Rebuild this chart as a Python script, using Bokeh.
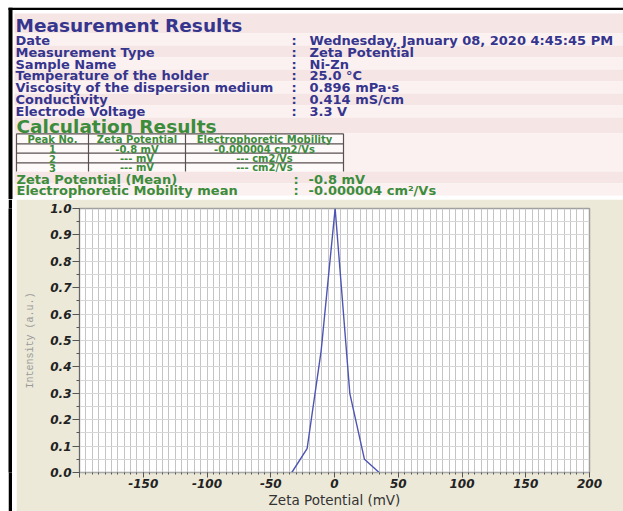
from bokeh.plotting import figure
from bokeh.layouts import column, row
from bokeh.models import Range1d, FixedTicker
from bokeh.core.properties import value
from bokeh.embed import file_html
from bokeh.resources import INLINE

# ---------------- data ----------------
info_labels = ["Date", "Measurement Type", "Sample Name", "Temperature of the holder",
               "Viscosity of the dispersion medium", "Conductivity", "Electrode Voltage"]
info_values = ["Wednesday, January 08, 2020 4:45:45 PM", "Zeta Potential", "Ni-Zn",
               "25.0 °C", "0.896 mPa·s", "0.414 mS/cm", "3.3 V"]
table_cols = ["Peak No.", "Zeta Potential", "Electrophoretic Mobility"]
peak_no = ["1", "2", "3"]
peak_zeta = ["-0.8 mV", "--- mV", "--- mV"]
peak_mobility = ["-0.000004 cm2/Vs", "--- cm2/Vs", "--- cm2/Vs"]
mean_labels = ["Zeta Potential (Mean)", "Electrophoretic Mobility mean"]
mean_values = ["-0.8 mV", "-0.000004 cm²/Vs"]

zeta_mv = [-33.5, -21.5, -10.5, 0.5, 12.0, 23.5, 35.0]
intensity = [0.0, 0.09, 0.46, 1.0, 0.30, 0.05, 0.0]

x_ticks = [-200, -150, -100, -50, 0, 50, 100, 150, 200]
x_tick_labels = ["", "-150", "-100", "-50", "0", "50", "100", "150", "200"]
y_ticks = [0.0, 0.1, 0.2, 0.3, 0.4, 0.5, 0.6, 0.7, 0.8, 0.9, 1.0]
y_tick_labels = ["0.0", "0.1", "0.2", "0.3", "0.4", "0.5", "0.6", "0.7", "0.8", "0.9", "1.0"]

BLUE = "#35358e"
GREEN = "#3c8c3c"
PINK_L = "#fcf1f1"
PINK_D = "#f5e5e5"
BEIGE = "#ece9d8"
FONT = value("DejaVu Sans")


def blank(w, h, xr, yr, color="white"):
    f = figure(width=w, height=h, x_range=xr, y_range=yr, title=None,
               output_backend="svg", toolbar_location=None, min_border=0)
    f.axis.visible = False
    f.grid.visible = False
    f.outline_line_color = None
    f.background_fill_color = color
    f.border_fill_color = color
    return f


# ---------------- header (coordinates = page pixels, y downward) ----------------
W, HH = 623, 199
hdr = blank(W, HH, Range1d(0, W), Range1d(HH, 0))

band_top = [13, 33, 45, 57, 69, 81, 93, 105, 117, 133, 171, 183]
band_bot = [33, 45, 57, 69, 81, 93, 105, 117, 133, 171, 183, 195]
band_col = [PINK_D, PINK_L, PINK_D, PINK_L, PINK_D, PINK_L, PINK_D, PINK_L, PINK_D, PINK_L, PINK_D, PINK_L]
hdr.quad(left=14, right=W, top=band_top, bottom=band_bot, fill_color=band_col, line_color=None)
hdr.quad(left=8, right=12, top=7.3, bottom=HH, fill_color="black", line_color=None)
hdr.quad(left=8, right=W, top=7.3, bottom=9.5, fill_color="black", line_color=None)


def txt(fig, x, y, t, color, size, align="left", baseline="middle", style="bold"):
    fig.text(x=x, y=y, text=t, text_color=color, text_font=FONT, text_font_style=style,
             text_font_size=size, text_align=align, text_baseline=baseline)


txt(hdr, [15], [24.5], ["Measurement Results"], BLUE, "18.5px")
ys = [39.8 + 11.85 * i for i in range(len(info_labels))]
txt(hdr, [15] * len(ys), ys, info_labels, BLUE, "13px")
txt(hdr, [291] * len(ys), ys, [":"] * len(ys), BLUE, "13px")
txt(hdr, [309] * len(ys), ys, info_values, BLUE, "13px")

txt(hdr, [16], [125.5], ["Calculation Results"], GREEN, "18.5px")

# table
col_edges = [16, 88, 185, 343]
row_edges = [133.3, 143.3, 152.7, 162.3, 171]
hdr.quad(left=col_edges[0], right=col_edges[-1], top=row_edges[0], bottom=row_edges[-1],
         fill_color="#fffafa", line_color=None)
hdr.segment(x0=[col_edges[0]] * 4, x1=[col_edges[-1]] * 4, y0=row_edges[:4], y1=row_edges[:4],
            line_color="#5a5050", line_width=1.2)
hdr.segment(x0=col_edges, x1=col_edges, y0=[row_edges[0]] * 4, y1=[row_edges[-1]] * 4,
            line_color="#5a5050", line_width=1.2)
centers = [(col_edges[i] + col_edges[i + 1]) / 2 for i in range(3)]
row_c = [(row_edges[i] + row_edges[i + 1]) / 2 + 0.5 for i in range(4)]
txt(hdr, centers, [row_c[0]] * 3, table_cols, GREEN, "10px", align="center")
for r in range(3):
    txt(hdr, centers, [row_c[r + 1]] * 3, [peak_no[r], peak_zeta[r], peak_mobility[r]],
        GREEN, "10px", align="center")

my = [178.5, 190.3]
txt(hdr, [16, 16], my, mean_labels, GREEN, "13px")
txt(hdr, [293, 293], my, [":", ":"], GREEN, "13px")
txt(hdr, [308, 308], my, mean_values, GREEN, "13px")

# ---------------- left strips ----------------
CH = 312
s1 = blank(8, CH, Range1d(0, 1), Range1d(0, 1), "white")
s2 = blank(4, CH, Range1d(0, 1), Range1d(0, 1), "black")
s3 = blank(4, CH, Range1d(0, 1), Range1d(0, 1), "white")

# ---------------- chart ----------------
p = figure(width=607, height=CH, x_range=Range1d(-200, 200), y_range=Range1d(0, 1.0),
           title=None, output_backend="svg", toolbar_location=None,
           min_border_left=63, min_border_right=34, min_border_top=9, min_border_bottom=39)
p.border_fill_color = BEIGE
p.background_fill_color = "white"
p.outline_line_color = "#a0a0a0"
p.outline_line_width = 1.5

p.line(zeta_mv, intensity, line_color="#4e54b4", line_width=1.4)

p.xaxis.ticker = FixedTicker(ticks=x_ticks, minor_ticks=list(range(-200, 201, 5)))
p.xaxis.major_label_overrides = dict(zip(x_ticks, x_tick_labels))
p.yaxis.ticker = FixedTicker(ticks=y_ticks, minor_ticks=[i * 0.05 for i in range(21)])
p.yaxis.major_label_overrides = dict(zip(y_ticks, y_tick_labels))

p.xgrid.ticker = FixedTicker(ticks=list(range(-200, 201, 5)))
p.ygrid.ticker = FixedTicker(ticks=[i * 0.05 for i in range(21)])
p.xgrid.grid_line_color = "#c4c4c4"
p.ygrid.grid_line_color = "#d6d6d6"

for ax in (p.xaxis[0], p.yaxis[0]):
    ax.major_label_text_font = "DejaVu Sans"
    ax.major_label_text_font_style = "bold italic"
    ax.major_label_text_font_size = "12px"
    ax.major_label_text_color = "#222222"
    ax.major_tick_in = 0
    ax.minor_tick_in = 0
    ax.major_tick_line_color = "#555555"
    ax.minor_tick_line_color = "#555555"
    ax.major_label_standoff = 1

p.xaxis.major_tick_out = 5
p.xaxis.minor_tick_out = 2
p.xaxis.axis_line_color = "#aaaaaa"
p.yaxis.major_tick_out = 7
p.yaxis.minor_tick_out = 3
p.yaxis.axis_line_color = "#666666"

p.xaxis.axis_label = "Zeta Potential (mV)"
p.xaxis.axis_label_text_font = "DejaVu Sans"
p.xaxis.axis_label_text_font_style = "normal"
p.xaxis.axis_label_text_font_size = "13.5px"
p.xaxis.axis_label_text_color = "#333333"
p.xaxis.axis_label_standoff = 1

p.yaxis.axis_label = "Intensity (a.u.)"
p.yaxis.axis_label_text_font = "Liberation Mono"
p.yaxis.axis_label_text_font_style = "normal"
p.yaxis.axis_label_text_font_size = "10px"
p.yaxis.axis_label_text_color = "#9a9a9a"
p.yaxis.axis_label_standoff = 11

layout = column(hdr, row(s1, s2, s3, p, spacing=0), spacing=0)

open("out.html", "w").write(file_html(layout, INLINE))
